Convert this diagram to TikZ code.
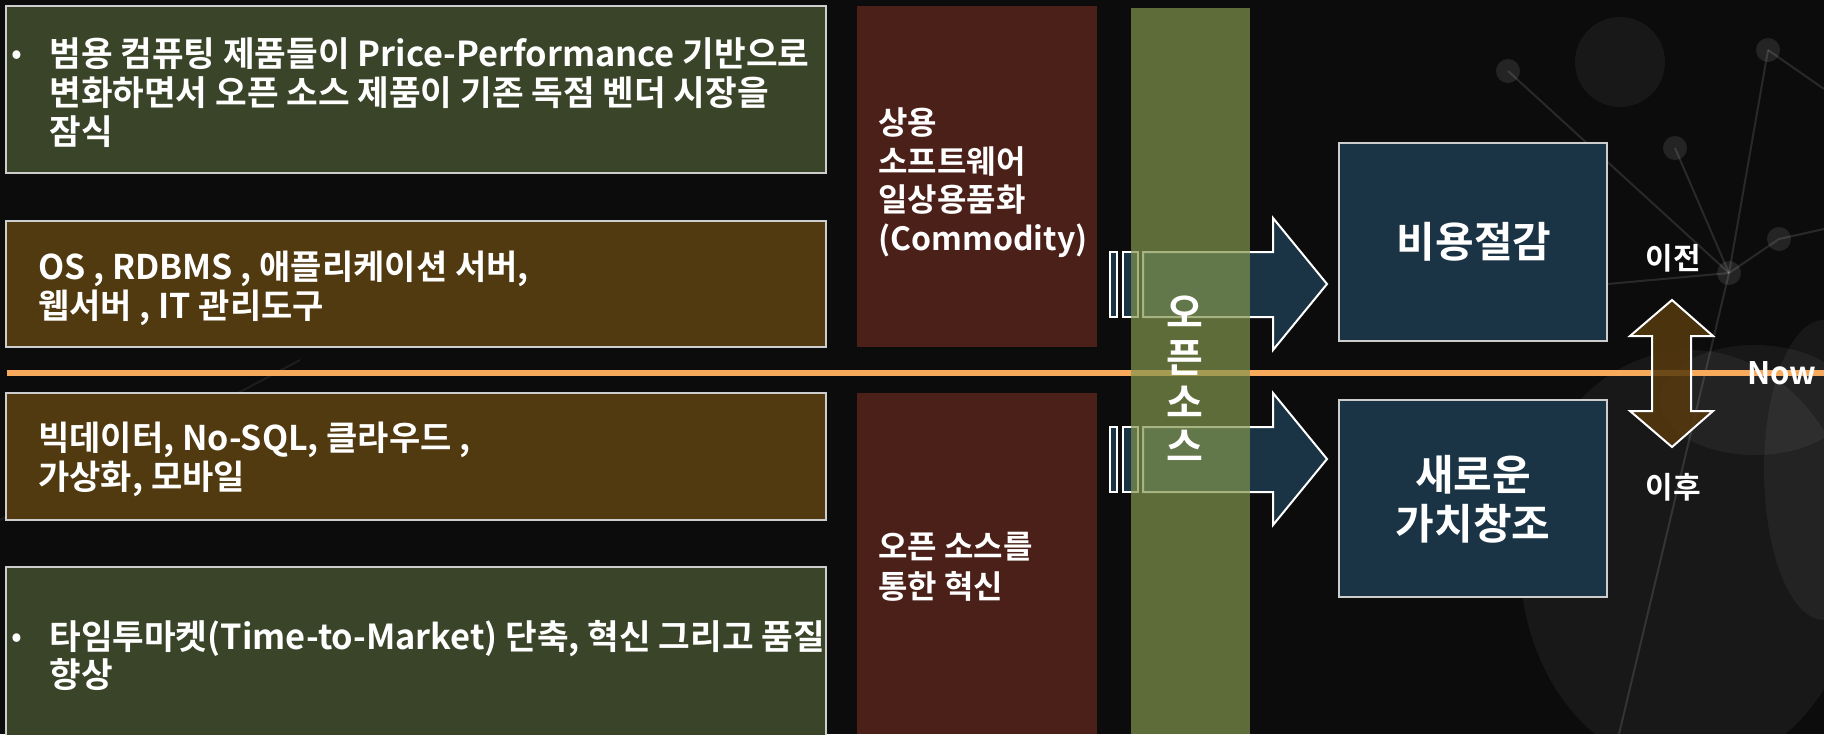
\documentclass[tikz,border=0pt]{standalone}
\usepackage{fontspec}
\setmainfont{Noto Sans CJK KR}[BoldFont={Noto Sans CJK KR Bold}]
\definecolor{bgc}{RGB}{12,12,12}
\definecolor{gbox}{RGB}{58,68,41}
\definecolor{bbox}{RGB}{81,58,15}
\definecolor{rcol}{RGB}{74,32,25}
\definecolor{gbar}{RGB}{130,149,77}
\definecolor{navy}{RGB}{26,52,69}
\definecolor{orng}{RGB}{247,169,92}
\definecolor{darr}{RGB}{87,58,14}
\definecolor{edgec}{RGB}{205,205,205}
\begin{document}
\begin{tikzpicture}[x=0.5pt,y=-0.5pt,
  greenbox/.style={fill=gbox,draw=edgec,line width=0.75pt},
  brownbox/.style={fill=bbox,draw=edgec,line width=0.75pt},
  redcol/.style={fill=rcol},
  navybox/.style={fill=navy,draw=edgec,line width=0.75pt},
  blockarrow/.style={fill=navy,draw=white,line width=1pt,line join=miter},
  txt/.style={text=white,font=\fontsize{16}{19}\selectfont\bfseries,inner sep=0,anchor=base west},
  ltxt/.style={txt,font=\fontsize{17.2}{20}\selectfont\bfseries},
  mtxt/.style={txt,font=\fontsize{17}{20}\selectfont\bfseries},
  bigtxt/.style={text=white,font=\fontsize{21}{25}\selectfont\bfseries,inner sep=0,anchor=base},
  vtxt/.style={text=white,font=\fontsize{20}{24}\selectfont\bfseries,inner sep=0,anchor=base},
  sidetxt/.style={text=white,font=\fontsize{15}{18}\selectfont\bfseries,inner sep=0,anchor=base},
  deco/.style={draw=white,draw opacity=0.12,line width=1pt},
  blob/.style={fill=white,fill opacity=0.05}]
% background
\fill[bgc] (0,0) rectangle (1824,734);
\useasboundingbox (0,0) rectangle (1824,734);
% faint background decoration
\fill[blob] (1620,62) circle (45);
\fill[blob] (1690,560) ellipse (170 and 210);
\fill[blob] (1755,400) ellipse (95 and 55);
\fill[blob] (1824,470) ellipse (60 and 150);
\coordinate (hub) at (1729,273);
\draw[deco] (1508,71) -- (hub);
\draw[deco] (1768,50) -- (hub);
\draw[deco] (1675,148) -- (hub);
\draw[deco] (1779,239) -- (hub);
\draw[deco] (1519,292) -- (hub);
\draw[deco] (hub) -- (1619,734);
\draw[deco] (1768,50) -- (1824,89);
\draw[deco] (1779,239) -- (1824,229);
\foreach \p in {(1508,71),(1768,50),(1675,148),(1779,239),(1519,292),(hub)}
  \fill[white,fill opacity=0.1] \p circle (12);
\draw[deco,draw opacity=0.07] (0,520) -- (300,360);
% left boxes
\draw[greenbox] (6,6) rectangle (826,173);
\draw[brownbox] (6,221) rectangle (826,347);
\draw[brownbox] (6,393) rectangle (826,520);
\draw[greenbox] (6,567) rectangle (826,740);
% red columns
\fill[redcol] (857,6) rectangle (1097,347);
\fill[redcol] (857,393) rectangle (1097,734);
% orange Now line
\draw[orng,line width=3pt] (7,373) -- (1824,373);
% block arrows
\draw[blockarrow] (1143,252) -- (1273,252) -- (1273,218) -- (1327,284) -- (1273,350) -- (1273,317) -- (1143,317) -- cycle;
\draw[blockarrow] (1110,252) rectangle (1117,317);
\draw[blockarrow] (1123,252) rectangle (1138,317);
\draw[blockarrow] (1143,427) -- (1273,427) -- (1273,393) -- (1327,459) -- (1273,525) -- (1273,492) -- (1143,492) -- cycle;
\draw[blockarrow] (1110,427) rectangle (1117,492);
\draw[blockarrow] (1123,427) rectangle (1138,492);
% navy result boxes
\draw[navybox] (1339,143) rectangle (1607,341);
\draw[navybox] (1339,400) rectangle (1607,597);
% open-source bar
\fill[gbar,fill opacity=0.7] (1131,8) rectangle (1250,734);
% double arrow
\draw[fill=darr,fill opacity=0.85,draw=white,line width=1pt] (1672,300) -- (1713,336) -- (1691,336) -- (1691,411) -- (1713,411) -- (1672,447) -- (1630,411) -- (1652,411) -- (1652,336) -- (1630,336) -- cycle;
% texts: green box 1
\node[text=white,font=\fontsize{16}{19}\selectfont,inner sep=0] (b1) at (17,58) {•};
\node[ltxt] (g1a) at (49,66) {범용 컴퓨팅 제품들이 Price-Performance 기반으로};
\node[ltxt] (g1b) at (49,105) {변화하면서 오픈 소스 제품이 기존 독점 벤더 시장을};
\node[ltxt] (g1c) at (49,144) {잠식};
% brown box 1
\node[mtxt] (b1a) at (38,279) {OS , RDBMS , 애플리케이션 서버,};
\node[mtxt] (b1b) at (38,318) {웹서버 , IT 관리도구};
% brown box 2
\node[mtxt] (b2a) at (38,450) {빅데이터, No-SQL, 클라우드 ,};
\node[mtxt] (b2b) at (38,489) {가상화, 모바일};
% green box 2
\node[text=white,font=\fontsize{16}{19}\selectfont,inner sep=0] (b2) at (17,641) {•};
\node[ltxt] (g2a) at (49,649) {타임투마켓(Time-to-Market) 단축, 혁신 그리고 품질};
\node[ltxt] (g2b) at (49,687) {향상};
% red column texts
\node[txt] (r1a) at (878,134) {상용};
\node[txt] (r1b) at (878,173) {소프트웨어};
\node[txt] (r1c) at (878,211) {일상용품화};
\node[txt] (r1d) at (878,250) {(Commodity)};
\node[txt] (r2a) at (878,558) {오픈 소스를};
\node[txt] (r2b) at (878,598) {통한 혁신};
% vertical open source
\node[vtxt] (os1) at (1185,327) {오};
\node[vtxt] (os2) at (1185,372) {픈};
\node[vtxt] (os3) at (1185,417) {소};
\node[vtxt] (os4) at (1185,461) {스};
% navy box texts
\node[bigtxt] (cut) at (1474,257) {비용절감};
\node[bigtxt] (new1) at (1473,490) {새로운};
\node[bigtxt] (new2) at (1473,539) {가치창조};
% before / after / now
\node[sidetxt] (before) at (1673,269) {이전};
\node[sidetxt] (after) at (1673,498) {이후};
\node[txt,font=\fontsize{15.5}{18}\selectfont\bfseries] (now) at (1747,384) {Now};
\end{tikzpicture}
\end{document}
